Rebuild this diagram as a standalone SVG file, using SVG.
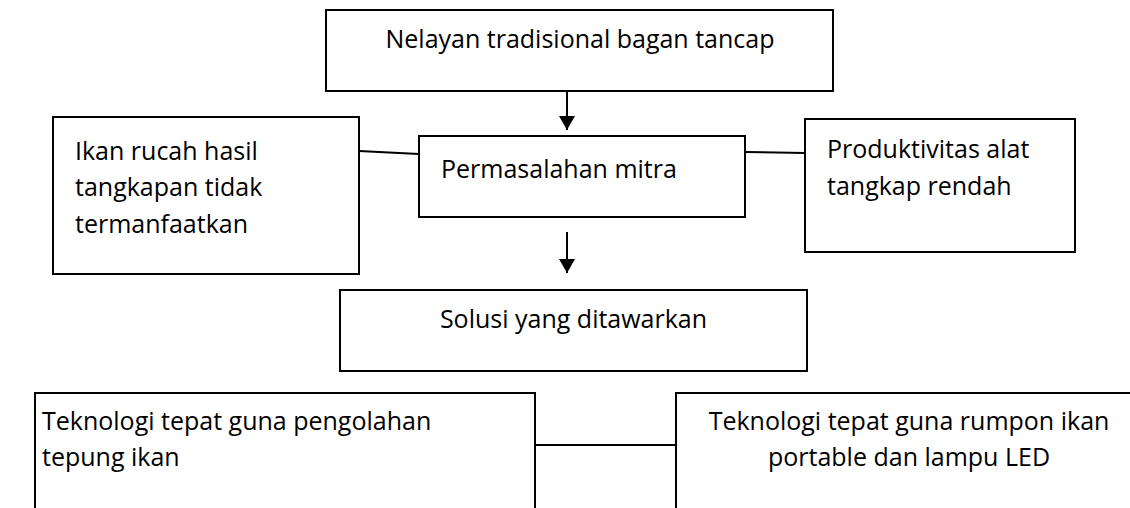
<svg xmlns="http://www.w3.org/2000/svg" width="1130" height="508" viewBox="0 0 1130 508">
<style>
.box{fill:#fff;stroke:#000;stroke-width:2}
.t{font-family:"Open Sans","Liberation Sans",sans-serif;font-size:25px;fill:#000}
.c{text-anchor:middle}
.ln{stroke:#000;stroke-width:2;fill:none}
</style>
<defs>
<marker id="ah" viewBox="0 0 14 16" refX="14" refY="8" markerWidth="14" markerHeight="16" markerUnits="userSpaceOnUse" orient="auto">
<path d="M0,0 L14,8 L0,16 z" fill="#000"/>
</marker>
</defs>
<rect width="1130" height="508" fill="#fff"/>
<g id="connectors">
<line class="ln" x1="567" y1="80" x2="567" y2="130" marker-end="url(#ah)"/>
<line class="ln" x1="567" y1="232" x2="567" y2="273" marker-end="url(#ah)"/>
<line class="ln" x1="359" y1="151" x2="419" y2="154"/>
<line class="ln" x1="745" y1="152" x2="805" y2="153"/>
<line class="ln" x1="535" y1="445" x2="676" y2="445"/>
</g>
<g id="node-nelayan">
<rect class="box" x="326" y="10" width="507" height="81"/>
<text class="t c" x="580" y="48">Nelayan tradisional bagan tancap</text>
</g>
<g id="node-ikan">
<rect class="box" x="53" y="117" width="306" height="157"/>
<text class="t" x="75" y="160">Ikan rucah hasil</text>
<text class="t" x="75" y="196">tangkapan tidak</text>
<text class="t" x="75" y="233">termanfaatkan</text>
</g>
<g id="node-permasalahan">
<rect class="box" x="419" y="136" width="326" height="81"/>
<text class="t" x="441" y="178">Permasalahan mitra</text>
</g>
<g id="node-produktivitas">
<rect class="box" x="805" y="119" width="270" height="133"/>
<text class="t" x="827" y="158">Produktivitas alat</text>
<text class="t" x="827" y="195">tangkap rendah</text>
</g>
<g id="node-solusi">
<rect class="box" x="340" y="290" width="467" height="81"/>
<text class="t c" x="573.5" y="328">Solusi yang ditawarkan</text>
</g>
<g id="node-tepung">
<rect class="box" x="35" y="393" width="500" height="130"/>
<text class="t" x="42" y="430">Teknologi tepat guna pengolahan</text>
<text class="t" x="42" y="466">tepung ikan</text>
</g>
<g id="node-rumpon">
<rect class="box" x="676" y="393" width="470" height="130"/>
<text class="t c" x="909" y="430">Teknologi tepat guna rumpon ikan</text>
<text class="t c" x="909" y="466">portable dan lampu LED</text>
</g>
</svg>
